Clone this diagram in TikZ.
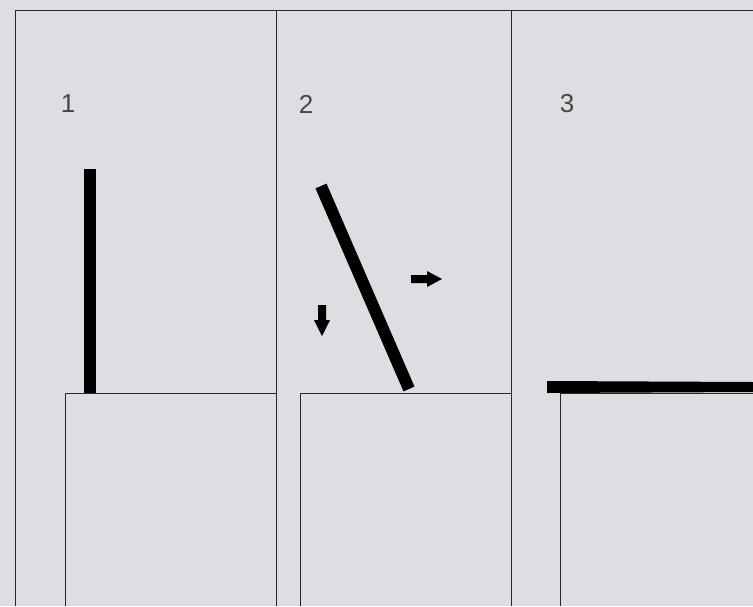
\documentclass[tikz,border=0pt]{standalone}
\usepackage{fontspec}
\setmainfont{Liberation Sans}
\definecolor{bggray}{RGB}{221,222,225}
\definecolor{framegray}{RGB}{40,40,40}
\definecolor{labelgray}{RGB}{70,70,70}

\begin{document}
\begin{tikzpicture}[x=1pt,y=-1pt]
  \useasboundingbox (0,0) rectangle (753,606);
  \fill[bggray] (0,0) rectangle (753,606);
  % frame and panel dividers
  \draw[framegray,line width=0.9] (15,606) -- (15,10) -- (753,10);
  \draw[framegray,line width=0.9] (276,10) -- (276,606);
  \draw[framegray,line width=0.9] (511,10) -- (511,606);
  % blocks
  \draw[framegray,line width=0.8] (65,606) -- (65,393) -- (276,393);
  \draw[framegray,line width=0.8] (300,606) -- (300,393) -- (511,393);
  \draw[framegray,line width=0.8] (560,606) -- (560,393) -- (753,393);
  % labels
  \node[labelgray,font=\fontsize{26}{26}\selectfont] (one) at (68,104) {1};
  \node[labelgray,font=\fontsize{26}{26}\selectfont] (two) at (306,104) {2};
  \node[labelgray,font=\fontsize{26}{26}\selectfont] (three) at (567,104) {3};
  % rods
  \fill[black] (84,169) rectangle (96,393);
  \draw[black,line width=12] (321,186) -- (409,389);
  \fill[black] (547,381) -- (753,382) -- (753,392) -- (547,393) -- cycle;
  % motion arrows
  \fill[black] (318,305) -- (326,305) -- (326,320) -- (330,320) -- (322,336)
    -- (314,320) -- (318,320) -- cycle;
  \fill[black] (411,275) -- (427,275) -- (427,271) -- (442,279) -- (427,287)
    -- (427,283) -- (411,283) -- cycle;
\end{tikzpicture}
\end{document}
